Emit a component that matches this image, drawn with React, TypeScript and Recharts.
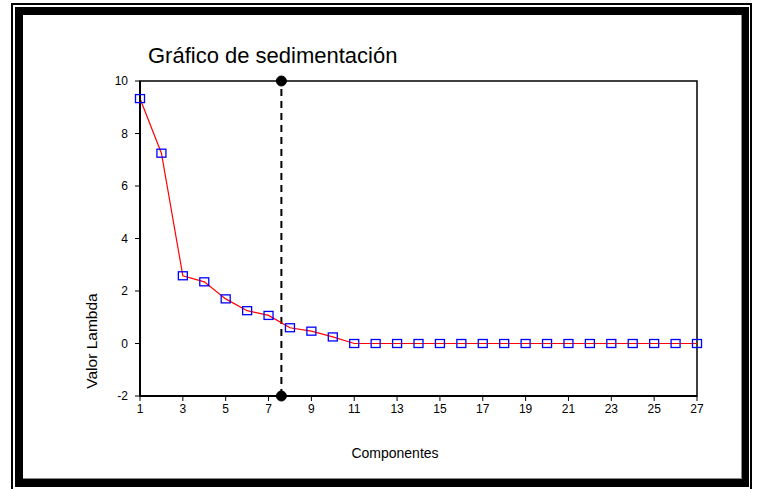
import React from 'react';
import {
  LineChart, Line, XAxis, YAxis, ReferenceLine, ReferenceDot, ReferenceArea,
} from 'recharts';

const COMPONENTS = [1, 2, 3, 4, 5, 6, 7, 8, 9, 10, 11, 12, 13, 14, 15, 16, 17, 18, 19, 20, 21, 22, 23, 24, 25, 26, 27];
const LAMBDA = [9.33, 7.25, 2.58, 2.35, 1.7, 1.25, 1.07, 0.6, 0.47, 0.25, 0, 0, 0, 0, 0, 0, 0, 0, 0, 0, 0, 0, 0, 0, 0, 0, 0];
const X_TICKS = [1, 3, 5, 7, 9, 11, 13, 15, 17, 19, 21, 23, 25, 27];
const Y_TICKS = [-2, 0, 2, 4, 6, 8, 10];
const CUTOFF = 7.6;

const data = COMPONENTS.map((c, i) => ({ comp: c, lambda: LAMBDA[i] }));

const FONT = '"Liberation Sans", Arial, sans-serif';

// hollow blue square marker
const SquareDot = (props: any) => {
  const { cx, cy } = props;
  if (cx == null || cy == null) return null;
  return <rect x={cx - 4.5} y={cy - 4} width={9} height={8} fill="none" stroke="#0000ff" strokeWidth={1.3} />;
};

const YLabel = (props: any) => {
  const { viewBox } = props;
  const x = viewBox.x + 1;
  const y = 341;
  return (
    <text x={x} y={y} transform={`rotate(-90, ${x}, ${y})`} textAnchor="middle"
      fontFamily={FONT} fontSize={15.5} fill="#000" dominantBaseline="central">
      Valor Lambda
    </text>
  );
};

const XLabel = () => (
  <text x={395} y={458} textAnchor="middle" fontFamily={FONT} fontSize={14} fill="#000">
    Componentes
  </text>
);

export default function App() {
  return (
    <div style={{ position: 'absolute', left: 0, top: 0, width: 757, height: 489, background: '#fff', overflow: 'hidden' }}>
      {/* outer thin frame */}
      <div style={{ position: 'absolute', left: 11, top: 3, width: 737, height: 490, border: '2px solid #000' }} />
      {/* thick frame */}
      <div style={{ position: 'absolute', left: 15, top: 7, width: 718, height: 464, border: '8px solid #000' }} />
      <div style={{ position: 'absolute', left: 23, top: 15, width: 718, height: 463, borderRight: '1px solid #888', borderBottom: '1px solid #888' }} />
      <div style={{
        position: 'absolute', left: 148, top: 42, fontFamily: FONT, fontSize: 22, color: '#000', lineHeight: '28px',
      }}>
        Gráfico de sedimentación
      </div>
      <div style={{ position: 'absolute', left: 0, top: 0 }}>
        <LineChart width={757} height={489} data={data}
          margin={{ top: 81, right: 60, bottom: 0, left: 90 }}>
          <XAxis
            dataKey="comp" type="number" domain={[1, 27]} ticks={X_TICKS}
            height={93} interval={0}
            axisLine={{ stroke: '#000', strokeWidth: 2 }}
            tickLine={{ stroke: '#000' }} tickSize={5} tickMargin={3}
            tick={{ fill: '#000', fontSize: 12, fontFamily: FONT }}
            label={<XLabel />}
          />
          <YAxis
            type="number" domain={[-2, 10]} ticks={Y_TICKS} width={50}
            axisLine={{ stroke: '#000', strokeWidth: 2 }}
            tickLine={{ stroke: '#000' }} tickSize={5} tickMargin={7}
            tick={{ fill: '#000', fontSize: 12, fontFamily: FONT }}
            label={<YLabel />}
          />
          <ReferenceArea x1={1} x2={27} y1={-2} y2={10} fill="none" stroke="#000" strokeWidth={1.5} ifOverflow="visible" />
          <ReferenceLine x={CUTOFF} stroke="#000" strokeWidth={2} strokeDasharray="7 5" />
          <Line
            type="linear" dataKey="lambda" stroke="#ff0000" strokeWidth={1.2}
            dot={<SquareDot />} isAnimationActive={false}
          />
          <ReferenceDot x={CUTOFF} y={10} r={5} fill="#000" stroke="#000" ifOverflow="visible" />
          <ReferenceDot x={CUTOFF} y={-2} r={5} fill="#000" stroke="#000" ifOverflow="visible" />
        </LineChart>
      </div>
    </div>
  );
}
